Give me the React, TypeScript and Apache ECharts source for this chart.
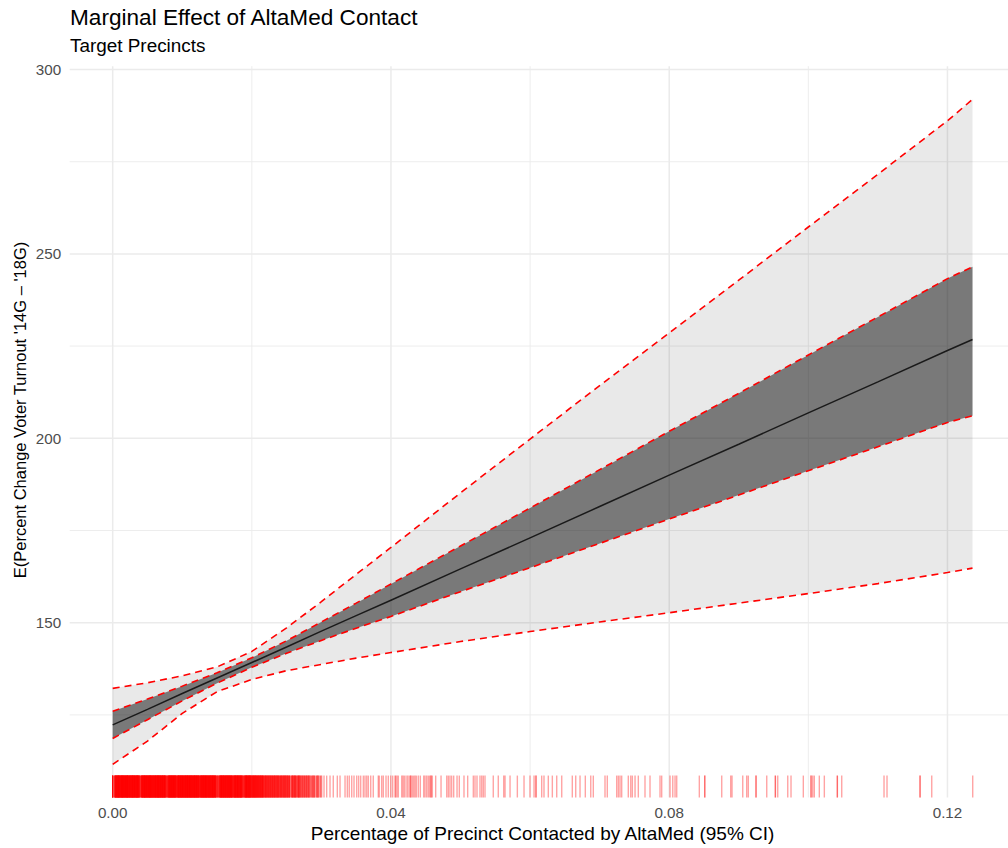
import React, { useEffect, useRef } from "react";
import * as echarts from "echarts";

// ---------- data ----------
const xTickLabels = [0, 0.04, 0.08, 0.12];
const yTickLabels = [150, 200, 250, 300];
const xGrid = [0, 0.02, 0.04, 0.06, 0.08, 0.1, 0.12];
const xGridMajor = [1, 0, 1, 0, 1, 0, 1];
const yGrid = [125, 150, 175, 200, 225, 250, 275, 300];
const yGridMajor = [0, 1, 0, 1, 0, 1, 0, 1];

const xs = [0, 0.005, 0.01, 0.015, 0.02, 0.025, 0.03, 0.035, 0.04, 0.05, 0.06, 0.07, 0.08, 0.09, 0.1, 0.11, 0.12, 0.1236];
const fit = [122.3, 126.5, 130.8, 135.0, 139.2, 143.4, 147.7, 151.9, 156.1, 164.6, 173.0, 181.5, 190.0, 198.4, 206.9, 215.3, 223.8, 226.8];
const innerUpper = [126.0, 129.3, 132.8, 136.4, 140.5, 145.1, 150.2, 155.3, 160.5, 170.8, 181.1, 191.5, 201.9, 212.2, 222.6, 232.9, 243.3, 246.5];
const innerLower = [118.6, 123.7, 128.8, 133.6, 137.9, 141.7, 145.2, 148.5, 151.7, 158.4, 164.9, 171.5, 178.1, 184.6, 191.2, 197.7, 204.3, 206.1];
const outerUpper = [132.2, 133.7, 135.6, 138.0, 142.2, 148.6, 155.7, 163.1, 170.4, 185.2, 199.8, 214.3, 228.6, 242.9, 257.3, 271.6, 286.1, 291.9];
const outerLower = [111.6, 117.9, 125.4, 131.3, 134.6, 137.0, 138.7, 140.4, 141.9, 144.9, 147.6, 150.2, 152.7, 155.3, 157.9, 160.6, 163.6, 164.8];

// rug: number of precincts in each 0.0001-wide bin, starting at 0
const rugDenseCounts = [
  8, 0, 0, 4, 5, 5, 4, 5, 6, 5,
  5, 4, 5, 5, 6, 5, 4, 5, 5, 4,
  5, 6, 5, 4, 5, 5, 4, 5, 5, 6,
  4, 5, 5, 4, 5, 6, 5, 4, 5, 2,
  2, 3, 5, 5, 4, 5, 6, 5, 4, 5,
  5, 4, 5, 5, 6, 4, 5, 5, 4, 5,
  4, 5, 5, 4, 5, 5, 6, 4, 5, 5,
  4, 5, 5, 4, 5, 5, 4, 2, 3, 2,
  5, 4, 5, 5, 4, 5, 5, 4, 5, 5,
  4, 5, 2, 4, 5, 5, 4, 5, 4, 5,
  5, 4, 5, 4, 5, 5, 4, 5, 5, 4,
  5, 4, 5, 5, 4, 5, 4, 5, 5, 4,
  5, 4, 5, 4, 5, 2, 4, 5, 4, 5,
  4, 5, 4, 5, 4, 5, 4, 4, 5, 4,
  5, 4, 4, 5, 4, 5, 4, 4, 5, 2,
  2, 3, 2, 2, 4, 4, 5, 4, 4, 5,
  4, 4, 5, 4, 4, 5, 4, 4, 5, 4,
  4, 5, 4, 2, 4, 4, 5, 4, 4, 4,
  5, 4, 4, 4, 5, 4, 4, 2, 3, 2,
  4, 4, 5, 4, 4, 4, 5, 4, 4, 4,
  2, 4, 4, 3, 4, 4, 3, 4, 3, 4,
  3, 3, 4, 3, 3, 4, 3, 3, 2, 3,
  3, 3, 2, 3, 3, 2, 3, 3, 2, 3,
  3, 2, 3, 3, 2, 3, 2, 3, 3, 2,
  2, 3, 2, 3, 2, 2, 3, 2, 3, 2,
  2, 3, 2, 2, 3, 2, 0, 2, 3, 2,
  2, 2, 3, 2, 2, 1, 2, 3, 2, 2,
  2, 1, 2, 2, 1, 2, 2, 1, 2, 2,
  1, 2, 2, 1, 2, 0, 2, 1, 2, 1,
  2, 1, 0, 2, 1, 2, 1, 1, 0, 2,
];
// rug: individual precincts above 0.03 (in units of 0.0001)
const rugSparse = [
  300.5, 303.8, 307.6, 312.4, 317.1, 322.9, 326.8, 334.0, 337.3, 340.1, 343.6, 346.9, 350.8, 353.6, 356.5,
  360.3, 362.7, 365.2, 367.5, 370.9, 374.6, 381.8, 383.3, 386.7, 389.0, 392.9, 396.2, 399.7, 402.5, 405.8,
  406.8, 408.7, 410.6, 415.5, 417.3, 419.2, 421.7, 424.1, 426.4, 428.4, 428.4, 430.7, 432.7, 434.6, 436.5,
  439.3, 442.2, 447.1, 449.0, 451.4, 453.7, 455.7, 457.6, 457.6, 459.5, 464.3, 472.0, 480.2, 482.5, 484.9,
  487.3, 490.2, 495.0, 498.3, 505.0, 510.3, 518.4, 520.8, 523.7, 528.0, 530.5, 532.8, 535.2, 547.1, 554.3,
  562.1, 564.0, 571.2, 581.7, 591.3, 599.9, 605.7, 608.5, 608.5, 616.7, 620.0, 626.2, 632.0, 638.3, 645.5,
  660.7, 665.6, 671.8, 679.4, 687.2, 690.9, 707.7, 711.0, 724.5, 726.9, 729.3, 731.7, 741.2, 744.7, 747.0,
  750.9, 755.6, 765.2, 772.4, 786.8, 789.2, 801.2, 805.1, 808.4, 810.8, 843.3, 851.1, 851.1, 875.5, 888.4,
  890.3, 905.7, 911.4, 913.7, 924.8, 924.8, 940.2, 952.6, 952.6, 956.0, 970.4, 975.1, 992.8, 1003.9, 1003.9,
  1006.3, 1008.6, 1015.8, 1023.0, 1041.7, 1041.7, 1048.0, 1108.8, 1113.1, 1160.6, 1160.6, 1177.4, 1236.3,
];

const titleText = "Marginal Effect of AltaMed Contact";
const subtitleText = "Target Precincts";
const xAxisTitle = "Percentage of Precinct Contacted by AltaMed (95% CI)";
const yAxisTitle = "E(Percent Change Voter Turnout '14G \u2013 '18G)";

// ---------- layout ----------
const X_MIN = -0.00618;
const X_MAX = 0.12978;
const Y_MIN = 102.6;
const Y_MAX = 300.9;
const FONT = "'Liberation Sans', Arial, Helvetica, sans-serif";

export default function App() {
  const ref = useRef<HTMLDivElement>(null);

  useEffect(() => {
    if (!ref.current) return;
    const chart = echarts.init(ref.current, undefined, { renderer: "svg" });

    const rugValues: number[] = [];
    rugDenseCounts.forEach((n, i) => {
      for (let k = 0; k < n; k++) rugValues.push(i / 10000);
    });
    rugSparse.forEach((v) => rugValues.push(v / 10000));

    const bandSeries = (upper: number[], lower: number[], fill: string) => ({
      type: "custom",
      silent: true,
      data: [[xs[0], lower[0]]],
      renderItem: (_params: any, api: any) => {
        const pts: number[][] = [];
        xs.forEach((x, i) => pts.push(api.coord([x, upper[i]])));
        for (let i = xs.length - 1; i >= 0; i--) pts.push(api.coord([xs[i], lower[i]]));
        return { type: "polygon", shape: { points: pts }, style: { fill } };
      },
    });

    const dashed = (vals: number[]) => ({
      type: "line",
      silent: true,
      symbol: "none",
      showSymbol: false,
      data: xs.map((x, i) => [x, vals[i]]),
      lineStyle: { color: "#FF0000", width: 1.6, type: [7, 5] },
    });

    const option: any = {
      animation: false,
      backgroundColor: "#FFFFFF",
      textStyle: { fontFamily: FONT },
      grid: { left: 69.7, right: 0.5, top: 66.2, bottom: 50.5, outerBoundsMode: "none" },
      xAxis: {
        type: "value",
        min: X_MIN,
        max: X_MAX,
        axisLine: { show: false },
        axisTick: { show: false },
        splitLine: { show: false },
        axisLabel: {
          customValues: xTickLabels,
          formatter: (v: number) => v.toFixed(2),
          color: "#4D4D4D",
          fontSize: 15.2,
          fontFamily: FONT,
          margin: 7,
        },
      },
      yAxis: {
        type: "value",
        min: Y_MIN,
        max: Y_MAX,
        axisLine: { show: false },
        axisTick: { show: false },
        splitLine: { show: false },
        axisLabel: {
          customValues: yTickLabels,
          formatter: (v: number) => String(v),
          color: "#4D4D4D",
          fontSize: 15.2,
          fontFamily: FONT,
          margin: 8.5,
        },
      },
      graphic: [
        {
          type: "text",
          x: 70,
          y: 17.5,
          style: { text: titleText, fontSize: 22.6, fill: "#000000", fontFamily: FONT, align: "left", verticalAlign: "middle" },
        },
        {
          type: "text",
          x: 70,
          y: 45.3,
          style: { text: subtitleText, fontSize: 18.9, fill: "#000000", fontFamily: FONT, align: "left", verticalAlign: "middle" },
        },
        {
          type: "text",
          x: 542.6,
          y: 833.5,
          style: { text: xAxisTitle, fontSize: 19, fill: "#000000", fontFamily: FONT, align: "center", verticalAlign: "middle" },
        },
        {
          type: "text",
          x: 20,
          y: 410,
          rotation: Math.PI / 2,
          style: { text: yAxisTitle, fontSize: 16.5, fill: "#000000", fontFamily: FONT, align: "center", verticalAlign: "middle" },
        },
      ],
      series: [
        {
          type: "custom",
          silent: true,
          data: xGrid.map((x, i) => [x, xGridMajor[i]]),
          renderItem: (params: any, api: any) => {
            const cs = params.coordSys;
            const px = api.coord([api.value(0), Y_MIN])[0];
            return {
              type: "line",
              shape: { x1: px, y1: cs.y, x2: px, y2: cs.y + cs.height },
              style: { stroke: "#EBEBEB", lineWidth: api.value(1) ? 1.5 : 0.9 },
            };
          },
        },
        {
          type: "custom",
          silent: true,
          data: yGrid.map((y, i) => [X_MIN, y, yGridMajor[i]]),
          renderItem: (params: any, api: any) => {
            const cs = params.coordSys;
            const py = api.coord([X_MIN, api.value(1)])[1];
            return {
              type: "line",
              shape: { x1: cs.x, y1: py, x2: cs.x + cs.width, y2: py },
              style: { stroke: "#EBEBEB", lineWidth: api.value(2) ? 1.5 : 0.9 },
            };
          },
        },
        bandSeries(outerUpper, outerLower, "rgba(0,0,0,0.085)"),
        bandSeries(innerUpper, innerLower, "rgba(0,0,0,0.48)"),
        dashed(outerUpper),
        dashed(outerLower),
        dashed(innerUpper),
        dashed(innerLower),
        {
          type: "line",
          silent: true,
          symbol: "none",
          showSymbol: false,
          data: xs.map((x, i) => [x, fit[i]]),
          lineStyle: { color: "#1A1A1A", width: 1.5 },
        },
        {
          type: "custom",
          silent: true,
          progressive: 0,
          data: rugValues.map((v) => [v, Y_MIN]),
          renderItem: (params: any, api: any) => {
            const cs = params.coordSys;
            const px = api.coord([api.value(0), Y_MIN])[0];
            const bottom = cs.y + cs.height;
            return {
              type: "line",
              shape: { x1: px, y1: bottom, x2: px, y2: bottom - cs.height * 0.03 },
              style: { stroke: "rgba(255,0,0,0.36)", lineWidth: 1.4 },
            };
          },
        },
      ],
    };

    chart.setOption(option);
    return () => chart.dispose();
  }, []);

  return (
    <div
      style={{ position: "fixed", left: 0, top: 0, width: 1008, height: 848, overflow: "hidden", background: "#FFFFFF" }}
    >
      <div ref={ref} style={{ position: "absolute", left: 0, top: 0, width: 1016, height: 848 }} />
    </div>
  );
}
